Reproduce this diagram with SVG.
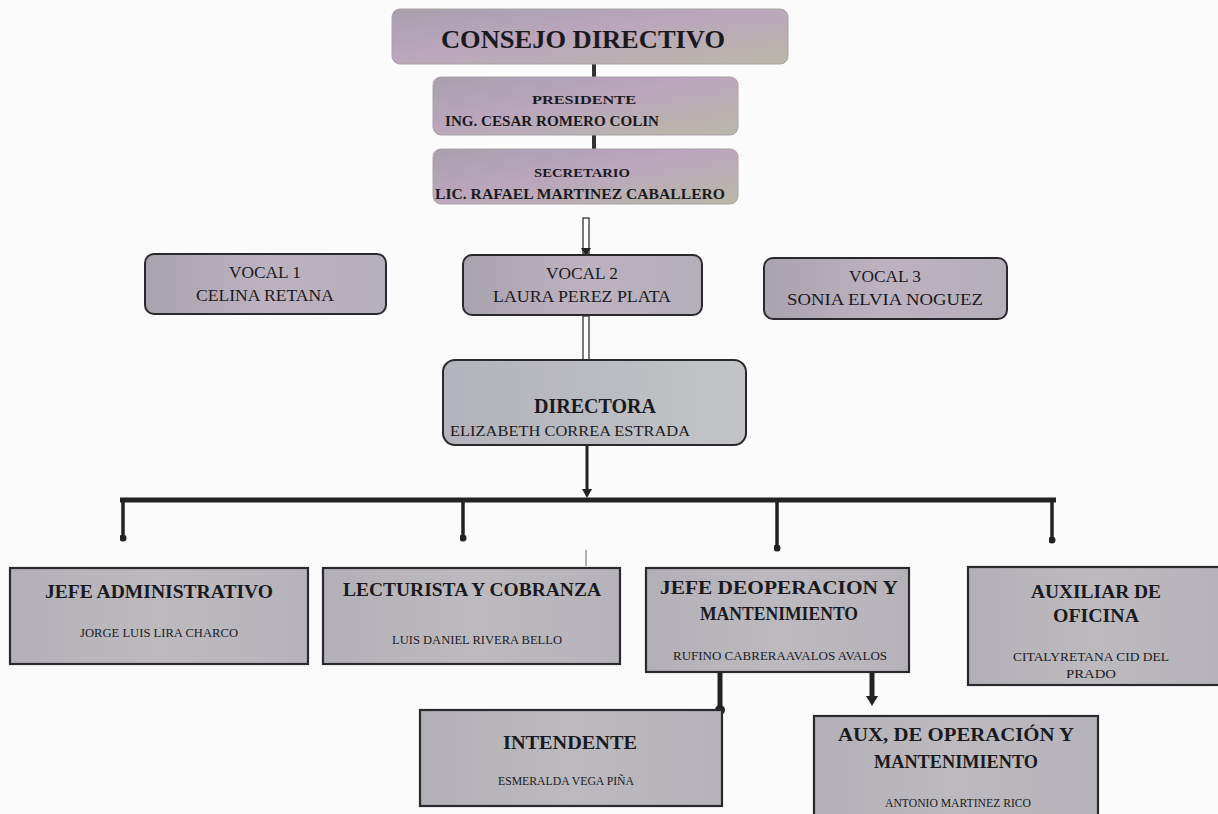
<svg xmlns="http://www.w3.org/2000/svg" width="1218" height="814" viewBox="0 0 1218 814">
<defs>
<linearGradient id="gTop" x1="0" y1="0" x2="1" y2="1">
<stop offset="0" stop-color="#a89fae"/>
<stop offset="0.45" stop-color="#bba6bd"/>
<stop offset="1" stop-color="#b9b8a8"/>
</linearGradient>
<linearGradient id="gVoc" x1="0" y1="0" x2="1" y2="0">
<stop offset="0" stop-color="#a8a3ad"/>
<stop offset="0.5" stop-color="#bdb2c0"/>
<stop offset="1" stop-color="#b4afb8"/>
</linearGradient>
<linearGradient id="gDir" x1="0" y1="0" x2="1" y2="0">
<stop offset="0" stop-color="#b3b3bb"/>
<stop offset="1" stop-color="#c2c4c6"/>
</linearGradient>
<linearGradient id="gBot" x1="0" y1="0" x2="1" y2="0">
<stop offset="0" stop-color="#b2b0b6"/>
<stop offset="0.5" stop-color="#bdbabf"/>
<stop offset="1" stop-color="#b5b3b9"/>
</linearGradient>
<marker id="dot" viewBox="0 0 10 10" refX="5" refY="5" markerWidth="2" markerHeight="2" markerUnits="strokeWidth">
<circle cx="5" cy="5" r="5" fill="#222"/>
</marker>
</defs>
<style>
.t{font-family:"Liberation Serif","Times New Roman",serif;font-weight:bold;fill:#1a1a1e;text-anchor:middle}
.n{font-family:"Liberation Serif","Times New Roman",serif;fill:#1a1a1e;text-anchor:middle}
.soft{fill:url(#gTop);stroke:#a8a4a8;stroke-width:1}
.voc{fill:url(#gVoc);stroke:#2a2a2e;stroke-width:2}
.dir{fill:url(#gDir);stroke:#2a2a2e;stroke-width:2}
.bot{fill:url(#gBot);stroke:#2a2a2e;stroke-width:2.2}
.thick{stroke:#222;stroke-width:5;fill:none}
.drop{stroke:#222;stroke-width:3.5;fill:none}
.dbl{fill:#fff;stroke:#333;stroke-width:1.3}
.head{fill:#222}
</style>
<rect width="1218" height="814" fill="#fbfbfb"/>

<g id="connectors">
<line x1="594" y1="64" x2="594" y2="78" stroke="#333" stroke-width="4"/>
<line x1="594" y1="135" x2="594" y2="149" stroke="#333" stroke-width="4"/>
<rect class="dbl" x="583" y="218" width="6" height="36"/>
<path class="head" d="M581,248 L591,248 L586,256 Z"/>
<rect class="dbl" x="583" y="316" width="6" height="44"/>
<line x1="587" y1="445" x2="587" y2="492" stroke="#222" stroke-width="3"/>
<path class="head" d="M582,489 L592,489 L587,498 Z"/>
<line x1="120" y1="500" x2="1056" y2="500" class="thick"/>
<line x1="123" y1="500" x2="123" y2="538" class="drop" marker-end="url(#dot)"/>
<line x1="463" y1="500" x2="463" y2="538" class="drop" marker-end="url(#dot)"/>
<line x1="777" y1="500" x2="777" y2="548" class="drop" marker-end="url(#dot)"/>
<line x1="1052" y1="500" x2="1052" y2="540" class="drop" marker-end="url(#dot)"/>
<line x1="586" y1="550" x2="586" y2="566" stroke="#999" stroke-width="1.5"/>
<line x1="720" y1="672" x2="720" y2="710" stroke="#222" stroke-width="5" marker-end="url(#dot)"/>
<line x1="872" y1="672" x2="872" y2="700" stroke="#222" stroke-width="5"/>
<path class="head" d="M866,696 L878,696 L872,706 Z"/>
</g>

<g id="consejo">
<rect class="soft" x="392" y="9" width="396" height="55" rx="8"/>
<text class="t" x="583" y="48" font-size="26" textLength="284" lengthAdjust="spacingAndGlyphs">CONSEJO DIRECTIVO</text>
</g>
<g id="presidente">
<rect class="soft" x="433" y="77" width="305" height="58" rx="8"/>
<text class="t" x="584" y="104" font-size="13" textLength="104" lengthAdjust="spacingAndGlyphs">PRESIDENTE</text>
<text class="t" x="552" y="126" font-size="15" textLength="214" lengthAdjust="spacingAndGlyphs">ING. CESAR ROMERO COLIN</text>
</g>
<g id="secretario">
<rect class="soft" x="433" y="149" width="305" height="55" rx="8"/>
<text class="t" x="582" y="177" font-size="13" textLength="96" lengthAdjust="spacingAndGlyphs">SECRETARIO</text>
<text class="t" x="580" y="199" font-size="14" textLength="290" lengthAdjust="spacingAndGlyphs">LIC. RAFAEL MARTINEZ CABALLERO</text>
</g>

<g id="vocal1">
<rect class="voc" x="145" y="254" width="241" height="60" rx="9"/>
<text class="n" x="265" y="278" font-size="17" textLength="72" lengthAdjust="spacingAndGlyphs">VOCAL 1</text>
<text class="n" x="265" y="301" font-size="17" textLength="138" lengthAdjust="spacingAndGlyphs">CELINA RETANA</text>
</g>
<g id="vocal2">
<rect class="voc" x="463" y="255" width="239" height="60" rx="9"/>
<text class="n" x="582" y="279" font-size="17" textLength="72" lengthAdjust="spacingAndGlyphs">VOCAL 2</text>
<text class="n" x="582" y="302" font-size="17" textLength="178" lengthAdjust="spacingAndGlyphs">LAURA PEREZ PLATA</text>
</g>
<g id="vocal3">
<rect class="voc" x="764" y="258" width="243" height="61" rx="9"/>
<text class="n" x="885" y="282" font-size="17" textLength="72" lengthAdjust="spacingAndGlyphs">VOCAL 3</text>
<text class="n" x="885" y="305" font-size="17" textLength="196" lengthAdjust="spacingAndGlyphs">SONIA ELVIA NOGUEZ</text>
</g>

<g id="directora">
<rect class="dir" x="443" y="360" width="303" height="85" rx="12"/>
<text class="t" x="595" y="413" font-size="20" textLength="122" lengthAdjust="spacingAndGlyphs">DIRECTORA</text>
<text class="n" x="570" y="436" font-size="15" textLength="240" lengthAdjust="spacingAndGlyphs">ELIZABETH CORREA ESTRADA</text>
</g>

<g id="jefe-administrativo">
<rect class="bot" x="10" y="568" width="298" height="96"/>
<text class="t" x="159" y="598" font-size="18" textLength="228" lengthAdjust="spacingAndGlyphs">JEFE ADMINISTRATIVO</text>
<text class="n" x="159" y="637" font-size="12" textLength="158" lengthAdjust="spacingAndGlyphs">JORGE LUIS LIRA CHARCO</text>
</g>
<g id="lecturista">
<rect class="bot" x="323" y="568" width="297" height="96"/>
<text class="t" x="472" y="596" font-size="18" textLength="258" lengthAdjust="spacingAndGlyphs">LECTURISTA Y COBRANZA</text>
<text class="n" x="477" y="644" font-size="12" textLength="170" lengthAdjust="spacingAndGlyphs">LUIS DANIEL RIVERA BELLO</text>
</g>
<g id="jefe-operacion">
<rect class="bot" x="646" y="568" width="263" height="104"/>
<text class="t" x="779" y="594" font-size="18" textLength="238" lengthAdjust="spacingAndGlyphs">JEFE DEOPERACION Y</text>
<text class="t" x="779" y="620" font-size="18" textLength="158" lengthAdjust="spacingAndGlyphs">MANTENIMIENTO</text>
<text class="n" x="780" y="660" font-size="12" textLength="214" lengthAdjust="spacingAndGlyphs">RUFINO CABRERAAVALOS AVALOS</text>
</g>
<g id="auxiliar-oficina">
<rect class="bot" x="968" y="567" width="252" height="118"/>
<text class="t" x="1096" y="598" font-size="18" textLength="130" lengthAdjust="spacingAndGlyphs">AUXILIAR DE</text>
<text class="t" x="1096" y="622" font-size="18" textLength="86" lengthAdjust="spacingAndGlyphs">OFICINA</text>
<text class="n" x="1091" y="661" font-size="12" textLength="156" lengthAdjust="spacingAndGlyphs">CITALYRETANA CID DEL</text>
<text class="n" x="1091" y="678" font-size="12" textLength="50" lengthAdjust="spacingAndGlyphs">PRADO</text>
</g>
<g id="intendente">
<rect class="bot" x="420" y="710" width="302" height="96"/>
<text class="t" x="570" y="749" font-size="18" textLength="134" lengthAdjust="spacingAndGlyphs">INTENDENTE</text>
<text class="n" x="566" y="785" font-size="12" textLength="136" lengthAdjust="spacingAndGlyphs">ESMERALDA VEGA PIÑA</text>
</g>
<g id="aux-operacion">
<rect class="bot" x="814" y="716" width="284" height="104"/>
<text class="t" x="956" y="741" font-size="18" textLength="236" lengthAdjust="spacingAndGlyphs">AUX, DE OPERACIÓN Y</text>
<text class="t" x="956" y="768" font-size="18" textLength="164" lengthAdjust="spacingAndGlyphs">MANTENIMIENTO</text>
<text class="n" x="958" y="807" font-size="12" textLength="146" lengthAdjust="spacingAndGlyphs">ANTONIO MARTINEZ RICO</text>
</g>
</svg>
